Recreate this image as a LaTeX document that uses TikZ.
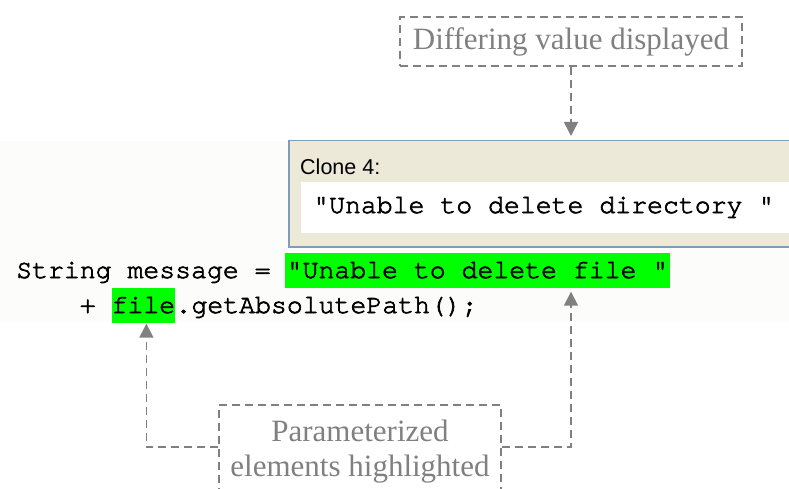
\documentclass[tikz,border=0pt]{standalone}
\usepackage{fontspec}
\setmainfont{Liberation Serif}
\newfontfamily\codefont{texgyrecursor-regular.otf}[FakeBold=2.5, Ligatures={NoCommon}]
\newfontfamily\guifont{Liberation Sans}
\usepackage{xcolor}
\usepackage{tikz}
\usetikzlibrary{arrows.meta}
\definecolor{notegray}{HTML}{808080}
\definecolor{hlgreen}{HTML}{00FF00}
\definecolor{xpborder}{HTML}{7F9DB9}
\definecolor{xpface}{HTML}{ECE9D8}
\definecolor{editorbg}{HTML}{FCFCFA}

\begin{document}
\begin{tikzpicture}[x=1pt, y=-1pt,
            every node/.append style = {inner sep=0pt},
            note/.style = {draw=notegray, text=notegray, line width=1.5pt, dash pattern=on 8pt off 5pt,
                           font=\fontsize{31}{35}\selectfont, align=center},
            link/.style = {draw=notegray, line width=1.5pt, dash pattern=on 8pt off 5pt,
                           -{Triangle[length=14pt,width=14pt]}},
            code/.style = {anchor=base west, font=\codefont\fontsize{26.5}{35}\selectfont},
            hl/.style = {code, fill=hlgreen, text height=25pt, text depth=9.5pt}]
        \useasboundingbox (0,0) rectangle (789,489);
        \fill[editorbg] (0,141) rectangle (789,322);
        \node (panel) [draw=xpborder, fill=xpface, line width=1.5pt, anchor=north west,
                       minimum width=520pt, minimum height=106pt] at (288,140) {};
        \node (clonelbl) [anchor=base west, font=\guifont\fontsize{21.5}{25}\selectfont] at (300,175) {Clone 4:};
        \node (valbox) [fill=white, anchor=north west, minimum width=500pt, minimum height=51pt] at (301,182) {};
        \node (valtext) [code] at (313,213) {"Unable to delete directory "};
        \node (decl) [code] at (16,278) {String message =};
        \node (hlmsg) [hl, inner xsep=1.5pt] at (285,278) {"Unable to delete file "};
        \node (plus) [code] at (79.6,313) {+};
        \node (hlfile) [hl] at (111.4,313) {file};
        \node (call) [code] at (hlfile.base east) {.getAbsolutePath();};
        \node (differ) [note, minimum width=342pt, minimum height=49pt] at (571,41.5) {Differing value displayed};
        \node (params) [note, minimum width=282pt, minimum height=94pt] at (360,452) {Parameterized\\elements highlighted};
        \draw[link, shorten >=4pt] (differ.south) -- (differ.south |- panel.north);
        \draw[link, shorten >=4pt] ([yshift=5pt]params.east) -| (hlmsg.south -| differ.south);
        \draw[link, shorten >=1pt] ([yshift=5pt]params.west) -| ([xshift=3pt]hlfile.south);
\end{tikzpicture}
\end{document}
